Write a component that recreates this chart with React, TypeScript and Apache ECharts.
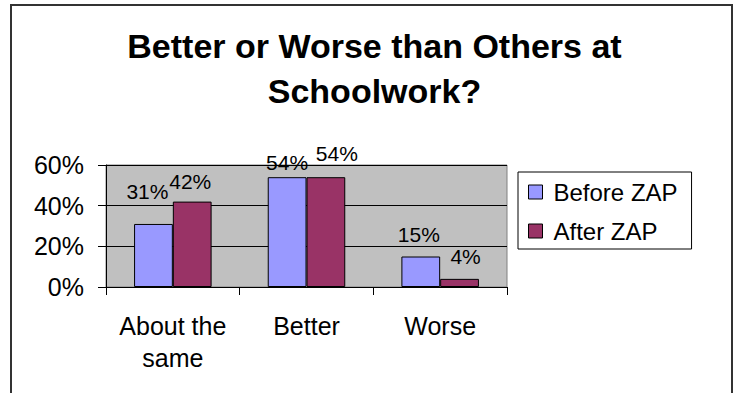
import React, { useEffect, useRef } from "react";
import * as echarts from "echarts";

const categories = ["About the\nsame", "Better", "Worse"];
const seriesNames = ["Before ZAP", "After ZAP"];
const beforeZap = [0.31, 0.54, 0.15];
const afterZap = [0.42, 0.54, 0.04];
const yMin = 0;
const yMax = 0.6;
const yStep = 0.2;
const titleLines = ["Better or Worse than Others at", "Schoolwork?"];

// label nudges (style only), matching the hand-placed labels of the original
const beforeNudge = [[-6, -10], [0, 8], [-2, 0]];
const afterNudge = [[-2, 2], [11, -1], [6, 0]];

const FONT = "'Liberation Sans', Arial, sans-serif";
const pct = (v: number) => Math.round(v * 100) + "%";

export default function App() {
  const ref = useRef<HTMLDivElement>(null);
  useEffect(() => {
    if (!ref.current) return;
    const chart = echarts.init(ref.current, null, { renderer: "svg" });
    const mk = (vals: number[], nudges: number[][]) =>
      vals.map((v, i) => ({ value: v, label: { offset: nudges[i] } }));
    chart.setOption({
      animation: false,
      backgroundColor: "#ffffff",
      textStyle: { fontFamily: FONT },
      graphic: [
        {
          type: "rect",
          shape: { x: 11, y: 5, width: 721, height: 420 },
          style: { fill: "none", stroke: "#333", lineWidth: 2 },
          silent: true,
        },
        {
          type: "text",
          x: 374.5,
          y: 46,
          style: {
            text: titleLines[0],
            textAlign: "center",
            textVerticalAlign: "middle",
            font: `bold 34px ${FONT}`,
            fill: "#000",
          },
        },
        {
          type: "text",
          x: 374.5,
          y: 91,
          style: {
            text: titleLines[1],
            textAlign: "center",
            textVerticalAlign: "middle",
            font: `bold 34px ${FONT}`,
            fill: "#000",
          },
        },
      ],
      legend: {
        left: 518,
        top: 172,
        orient: "vertical",
        data: seriesNames,
        backgroundColor: "#fff",
        borderColor: "#000",
        borderWidth: 1,
        padding: [8, 14, 6, 10],
        itemWidth: 14,
        itemHeight: 14,
        itemGap: 15,
        icon: "rect",
        itemStyle: { borderColor: "#000", borderWidth: 1 },
        textStyle: { fontSize: 24, color: "#000", fontFamily: FONT, padding: [0, 0, 0, 6] },
      },
      grid: { left: 106, top: 165, right: 230, bottom: 106, show: true, backgroundColor: "#C0C0C0", borderColor: "#808080", borderWidth: 1 },
      xAxis: {
        type: "category",
        data: categories,
        axisLine: { show: true, lineStyle: { color: "#000", width: 1 } },
        axisTick: { show: true, length: 8, lineStyle: { color: "#000" } },
        axisLabel: { fontSize: 25, color: "#000", lineHeight: 32, margin: 23, fontFamily: FONT, interval: 0 },
      },
      yAxis: {
        type: "value",
        min: yMin,
        max: yMax,
        interval: yStep,
        axisLine: { show: true, lineStyle: { color: "#000", width: 1 } },
        axisTick: { show: true, length: 8, lineStyle: { color: "#000" } },
        axisLabel: { fontSize: 25, color: "#000", margin: 22, fontFamily: FONT, formatter: (v: number) => pct(v) },
        splitLine: { show: true, lineStyle: { color: "#000", width: 1 } },
      },
      series: [
        {
          name: seriesNames[0],
          type: "bar",
          data: mk(beforeZap, beforeNudge),
          barGap: "0%",
          barCategoryGap: "42%",
          itemStyle: { color: "#9999FF", borderColor: "#000", borderWidth: 1 },
          label: { show: true, position: "top", distance: 12, fontSize: 21, color: "#000", fontFamily: FONT, formatter: (p: any) => pct(p.value) },
        },
        {
          name: seriesNames[1],
          type: "bar",
          data: mk(afterZap, afterNudge),
          barGap: "0%",
          barCategoryGap: "42%",
          itemStyle: { color: "#993366", borderColor: "#000", borderWidth: 1 },
          label: { show: true, position: "top", distance: 12, fontSize: 21, color: "#000", fontFamily: FONT, formatter: (p: any) => pct(p.value) },
        },
      ],
    });
    return () => chart.dispose();
  }, []);
  return (
    <div
      ref={ref}
      style={{ position: "fixed", left: 0, top: 0, width: 737, height: 393 }}
    />
  );
}
